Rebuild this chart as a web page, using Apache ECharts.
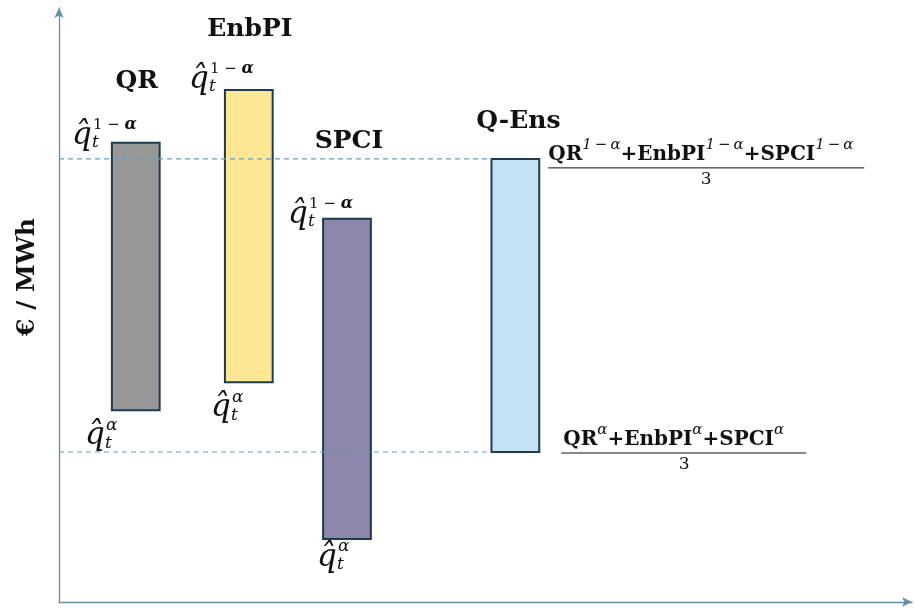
<!DOCTYPE html>
<html>
<head>
<meta charset="utf-8">
<script src="https://cdn.jsdelivr.net/npm/echarts@6/dist/echarts.min.js"></script>
<style>html,body{margin:0;padding:0;background:#fff}#c{width:915px;height:610px}</style>
</head>
<body>
<div id="c"></div>
<script>
// ---- data ----
const categories = ['QR', 'EnbPI', 'SPCI', 'Q-Ens'];
const xPositions = [9.0, 22.25, 33.76, 53.5];
const lowerBounds = [32.3, 37.0, 10.6, 25.25];
const upperBounds = [77.3, 86.2, 64.5, 74.6];
const yAxisName = '€ / MWh';
const upperFraction = ['QR', 'EnbPI', 'SPCI'];

// ---- styles / layout ----
const colors = ['#989898', '#fde694', '#8c86ab', '#c2e3f3'];
const borderColor = '#1e3a4c';
const axisColor = '#5f8fab';
const guideColor = '#6a9cc0';
const serif = 'DejaVu Serif';
const barWidthUnits = 5.6;
const titleOffset = [[1, -61], [1, -60], [2, -77], [3, -37]];
const topLabelOffset = [[-40, 0], [-36, -3], [-35, 3]];
const botLabelOffset = [[-27, 0], [-14, 0], [-6, -7]];

function qLabel(left, top, supRich, supParts, group) {
  group.push({type: 'text', style: {x: left, y: top + 18, text: 'q\u0302', font: 'italic 31px ' + serif, fill: '#111', align: 'left', verticalAlign: 'middle'}});
  group.push({type: 'text', style: {x: left + 20, y: top + 25, text: 't', font: 'italic 17px ' + serif, fill: '#111', align: 'left', verticalAlign: 'middle'}});
  group.push({type: 'text', style: {x: left + 21, y: top + 7, text: supParts, rich: supRich, fill: '#111', align: 'left', verticalAlign: 'middle'}});
}
const supTopRich = {n: {fontFamily: serif, fontSize: 15, fontWeight: 'normal'}, a: {fontFamily: serif, fontSize: 16, fontWeight: 'bold', fontStyle: 'italic'}};
const supBotRich = {a: {fontFamily: serif, fontSize: 17, fontStyle: 'italic'}};

function fracRich() {
  return {
    b: {fontFamily: serif, fontSize: 20, fontWeight: 'bold', verticalAlign: 'bottom', lineHeight: 27, fill: '#111'},
    s: {fontFamily: serif, fontSize: 15, fontStyle: 'italic', verticalAlign: 'top', lineHeight: 27, fill: '#111'}
  };
}

const seriesData = categories.map((c, i) => [xPositions[i], lowerBounds[i], upperBounds[i]]);

const chart = echarts.init(document.getElementById('c'), null, {renderer: 'canvas'});
chart.setOption({
  animation: false,
  backgroundColor: '#fff',
  grid: {left: 59, right: 3, top: 8, bottom: 8, containLabel: false, outerBoundsMode: 'none'},
  xAxis: {
    type: 'value', min: 0, max: 100,
    axisLine: {show: true, lineStyle: {color: axisColor, width: 1.3}, symbol: ['none', 'arrow'], symbolSize: [7, 10]},
    axisTick: {show: false}, axisLabel: {show: false}, splitLine: {show: false}
  },
  yAxis: {
    type: 'value', min: 0, max: 100,
    name: yAxisName, nameLocation: 'middle', nameGap: 19, nameRotate: 90,
    nameTextStyle: {fontFamily: serif, fontSize: 25, fontWeight: 'bold', color: '#111', padding: [0, 0, 0, 56]},
    axisLine: {show: true, lineStyle: {color: axisColor, width: 1.3}, symbol: ['none', 'arrow'], symbolSize: [7, 10]},
    axisTick: {show: false}, axisLabel: {show: false}, splitLine: {show: false}
  },
  series: [
    {
      type: 'custom', z: 2,
      data: seriesData,
      renderItem: function (params, api) {
        const i = params.dataIndex;
        const x = api.value(0), lo = api.value(1), hi = api.value(2);
        const pTop = api.coord([x, hi]);
        const pBot = api.coord([x, lo]);
        const w = api.size([barWidthUnits, 0])[0];
        const L = pTop[0] - w / 2, R = pTop[0] + w / 2;
        const children = [];
        children.push({type: 'rect', shape: {x: L, y: pTop[1], width: w, height: pBot[1] - pTop[1]},
          style: {fill: colors[i], stroke: borderColor, lineWidth: 2}});
        children.push({type: 'text', style: {x: pTop[0] + titleOffset[i][0], y: pTop[1] + titleOffset[i][1],
          text: categories[i], font: 'bold 25px ' + serif, fill: '#111', align: 'center', verticalAlign: 'middle'}});
        if (i < 3) {
          qLabel(L + topLabelOffset[i][0], pTop[1] - 25 + topLabelOffset[i][1], supTopRich, '{n|1 − }{a|α}', children);
          qLabel(L + botLabelOffset[i][0], pBot[1] + 8 + botLabelOffset[i][1], supBotRich, '{a|α}', children);
        } else {
          const sUp = '1\u2009−\u2009α';
          const numUp = upperFraction.map((n, k) => (k ? '{b|+' : '{b|') + n + '}{s|' + sUp + '}').join('');
          const numLo = upperFraction.map((n, k) => (k ? '{b|+' : '{b|') + n + '}{s|α}').join('');
          children.push({type: 'text', style: {x: R + 9, y: pTop[1] - 8, text: numUp, rich: fracRich(), align: 'left', verticalAlign: 'middle'}});
          children.push({type: 'line', shape: {x1: R + 9, y1: pTop[1] + 9, x2: R + 325, y2: pTop[1] + 9}, style: {stroke: '#111', lineWidth: 1}});
          children.push({type: 'text', style: {x: R + 167, y: pTop[1] + 21, text: '3', font: '17px ' + serif, fill: '#111', align: 'center', verticalAlign: 'middle'}});
          children.push({type: 'text', style: {x: R + 24, y: pBot[1] - 16, text: numLo, rich: fracRich(), align: 'left', verticalAlign: 'middle'}});
          children.push({type: 'line', shape: {x1: R + 22, y1: pBot[1] + 1, x2: R + 267, y2: pBot[1] + 1}, style: {stroke: '#111', lineWidth: 1}});
          children.push({type: 'text', style: {x: R + 145, y: pBot[1] + 13, text: '3', font: '17px ' + serif, fill: '#111', align: 'center', verticalAlign: 'middle'}});
        }
        return {type: 'group', children: children};
      }
    },
    {
      type: 'custom', z: 5,
      data: [seriesData[3]],
      renderItem: function (params, api) {
        const x = api.value(0), lo = api.value(1), hi = api.value(2);
        const w = api.size([barWidthUnits, 0])[0];
        const left = api.coord([0, hi])[0];
        const right = api.coord([x, hi])[0] - w / 2;
        const yT = api.coord([x, hi])[1], yB = api.coord([x, lo])[1];
        const st = {stroke: guideColor, lineWidth: 1.1, lineDash: [5, 4]};
        return {type: 'group', children: [
          {type: 'line', shape: {x1: left, y1: yT, x2: right, y2: yT}, style: st},
          {type: 'line', shape: {x1: left, y1: yB, x2: right, y2: yB}, style: st}
        ]};
      }
    }
  ]
});
</script>
</body>
</html>
